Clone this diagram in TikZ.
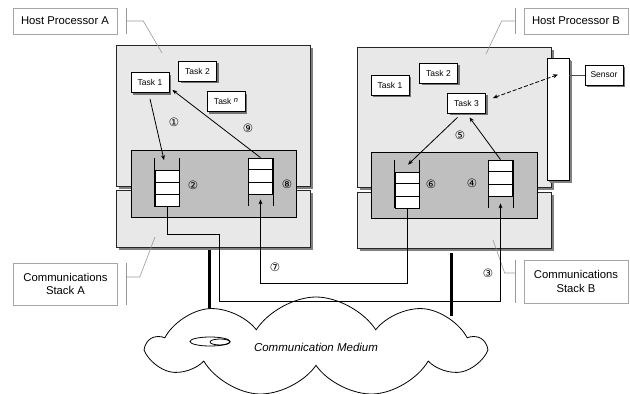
\documentclass[tikz,border=0pt]{standalone}
\usepackage{fontspec}
\setmainfont{Liberation Sans}
\newfontfamily\circfont{DejaVu Sans}
\usetikzlibrary{calc,shadows,shapes.symbols,arrows.meta}
\newcommand{\queuecells}[1]{%
  \draw ($(#1.north west)!1/3!(#1.south west)$) -- ($(#1.north east)!1/3!(#1.south east)$)
        ($(#1.north west)!2/3!(#1.south west)$) -- ($(#1.north east)!2/3!(#1.south east)$);}
\newcommand{\railsup}[1]{\draw ($(#1.north west)+(0,-12)$) -- (#1.south west) ($(#1.north east)+(0,-12)$) -- (#1.south east);}
\newcommand{\railsdown}[1]{\draw (#1.north west) -- ($(#1.south west)+(0,12)$) (#1.north east) -- ($(#1.south east)+(0,12)$);}
\begin{document}
\begin{tikzpicture}[x=1pt,y=-1pt,line width=0.8pt,
    box/.style={draw=black!85,fill=black!9,inner sep=0pt,drop shadow={shadow xshift=3pt,shadow yshift=-3pt,fill=black!50,opacity=1}},
    buffer/.style={draw,fill=black!25,inner sep=0pt},
    task/.style={draw,fill=white,inner sep=0pt,minimum width=38,minimum height=20,font=\fontsize{8.5}{10}\selectfont,
      drop shadow={shadow xshift=2pt,shadow yshift=-2pt,fill=black!55,opacity=1}},
    queue/.style={draw,fill=white,inner sep=0pt,minimum width=24,minimum height=36},
    num/.style={font=\circfont\fontsize{11.5}{12}\selectfont,inner sep=0pt},
    lbl/.style={draw=black!35,fill=white,line width=0.6pt,inner sep=0pt,minimum width=104,align=center,font=\fontsize{11.3}{13.5}\selectfont},
    lead/.style={draw=black!40,line width=0.6pt},
    arr/.style={-{Stealth[length=5pt,width=4pt]}},
    medium/.style={line width=3pt}]
  \useasboundingbox (0,0) rectangle (630,394);

  \node[box,minimum width=194,minimum height=141] (hostA) at (213,115.5) {};
  \node[box,minimum width=194,minimum height=57] (commA) at (213,218.5) {};
  \node[buffer,minimum width=165,minimum height=67] (bufA) at (213.5,183.5) {};
  \node[queue] (qAtx) at (167,188.5) {};
  \node[queue] (qArx) at (260.5,176) {};
  \queuecells{qAtx} \queuecells{qArx}
  \railsup{qAtx} \railsdown{qArx}
  \node[task] (tA1) at (150,82.5) {Task 1};
  \node[task] (tA2) at (197.5,71) {Task 2};
  \node[task] (tAn) at (226,101.5) {Task~\raisebox{0.35ex}{\fontsize{7.5}{8}\selectfont\itshape n}};
  \draw[arr] ($(tA1.south)+(0,6)$) -- ($(qAtx.north)+(-3,-10)$);
  \draw[arr] (qArx.north) -- ($(tA1.south east)+(3,-3)$);
  \node[num] (n1) at (174,122) {①};
  \node[num] (n2) at (193,185) {②};
  \node[num] (n8) at (287,184) {⑧};
  \node[num] (n9) at (248,128) {⑨};

  \node[box,minimum width=194,minimum height=140] (hostB) at (454,117) {};
  \node[box,minimum width=194,minimum height=56] (commB) at (454,220) {};
  \node[buffer,minimum width=166,minimum height=66] (bufB) at (454,185) {};
  \node[queue] (qBtx) at (407,190) {};
  \node[queue] (qBrx) at (500.5,178) {};
  \queuecells{qBtx} \queuecells{qBrx}
  \railsup{qBtx} \railsdown{qBrx}
  \node[task] (tB1) at (390,85) {Task 1};
  \node[task] (tB2) at (438.5,73) {Task 2};
  \node[task] (tB3) at (466.5,103) {Task 3};
  \node[task,minimum width=22,minimum height=122,drop shadow={shadow xshift=3pt,shadow yshift=-3pt,fill=black!50,opacity=1}] (bar) at (558,119) {};
  \node[task] (sensor) at (604,75) {Sensor};
  \draw[black!70] (bar.east |- sensor.west) -- (sensor.west);
  \draw[arr] ($(tB3.south)+(-9,4)$) -- ($(qBtx.north)+(1,-7)$);
  \draw[arr] (qBrx.north) -- ($(tB3.south)+(3,4)$);
  \draw[{Stealth[length=5pt,width=4pt]}-{Stealth[length=5pt,width=4pt]},dash pattern=on 4pt off 2pt] ($(tB3.east)+(7,-5)$) -- ($(bar.north)+(0,17)$);
  \node[num] (n4) at (472,183) {④};
  \node[num] (n5) at (460,135) {⑤};
  \node[num] (n6) at (431,184) {⑥};

  \node[lbl,minimum height=26] (hpA) at (65,21) {Host Processor A};
  \node[lbl,minimum height=26] (hpB) at (576,21) {Host Processor B};
  \node[lbl,minimum height=42] (csA) at (65.5,284) {Communications\\Stack A};
  \node[lbl,minimum height=43] (csB) at (576,281.5) {Communications\\Stack B};
  \draw[lead] ($(hpA.north east)+(9,0)$) -- ($(hpA.south east)+(9,0)$);
  \draw[lead] ($(hpA.east)+(9,0)$) -- ++(17,0) -- (162,53);
  \draw[lead] ($(hpB.north west)+(-8,0)$) -- ($(hpB.south west)+(-8,0)$);
  \draw[lead] ($(hpB.west)+(-8,0)$) -- ++(-14,0) -- (486,54);
  \draw[lead] ($(csA.north east)+(8,0)$) -- ($(csA.south east)+(8,0)$);
  \draw[lead] ($(csA.east)+(8,-7)$) -- ++(14,0) -- (155,237);
  \draw[lead] ($(csB.north west)+(-8,0)$) -- ($(csB.south west)+(-8,0)$);
  \draw[lead] ($(csB.west)+(-8,-8.5)$) -- ++(-11,0) -- (493,240);

  \draw[medium] ($(commA.south)+(-4,3)$) -- ++(0,65);
  \draw[medium] ($(commB.south)+(-3,5)$) -- ++(0,63);
  \node[cloud,draw,fill=white,cloud puffs=9,cloud puff arc=115,aspect=3.4,minimum width=335,minimum height=100,inner sep=0pt,
    font=\fontsize{11.5}{13}\selectfont\itshape] (medium) at (316,347) {Communication Medium};
  \draw (210,341.5) ellipse [x radius=20,y radius=4.5];
  \draw (220,342) ellipse [x radius=10,y radius=3];
  \node[num] (n3) at (488,273) {③};
  \node[num] (n7) at (275,267) {⑦};
  \draw[arr] (qAtx.south) -- ++(0,27) -| (219,301) -| ($(qBrx.south)+(0,7)$);
  \draw[arr] (qBtx.south) -- ++(0,75) -| ($(qArx.south)+(0,5)$);
\end{tikzpicture}
\end{document}
